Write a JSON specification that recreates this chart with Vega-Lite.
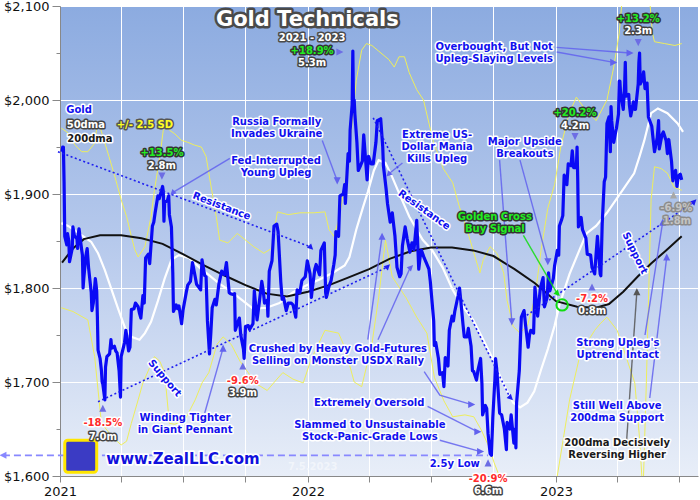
{
  "$schema": "https://vega.github.io/schema/vega-lite/v6.json",
  "width": 638,
  "height": 470,
  "autosize": {"type": "none"},
  "padding": {"left": 60, "top": 6, "right": 2, "bottom": 24},
  "background": "#ffffff",
  "config": {
    "font": "DejaVu Sans",
    "view": {
      "stroke": null,
      "fill": {
        "gradient": "linear", "x1": 0, "y1": 0, "x2": 0, "y2": 1,
        "stops": [
          {"offset": 0, "color": "#8cabe0"},
          {"offset": 0.5, "color": "#b6c9ec"},
          {"offset": 1, "color": "#e8eef8"}
        ]
      }
    },
    "axis": {
      "labelFont": "DejaVu Sans",
      "labelFontSize": 13,
      "labelColor": "#111111",
      "domainColor": "#888888",
      "tickColor": "#888888",
      "gridColor": "#ffffff",
      "gridWidth": 1,
      "labelOverlap": false,
      "labelFlush": false
    },
    "text": {"font": "DejaVu Sans", "fontWeight": "bold", "align": "center", "baseline": "middle"}
  },
  "datasets": {
    "gold": [
      {"date": "2021-01-04", "price": 1945}, {"date": "2021-01-05", "price": 1950}, {"date": "2021-01-06", "price": 1950},
      {"date": "2021-01-07", "price": 1913}, {"date": "2021-01-08", "price": 1855}, {"date": "2021-01-11", "price": 1846},
      {"date": "2021-01-12", "price": 1858}, {"date": "2021-01-14", "price": 1850}, {"date": "2021-01-15", "price": 1828},
      {"date": "2021-01-19", "price": 1842}, {"date": "2021-01-20", "price": 1865}, {"date": "2021-01-22", "price": 1856},
      {"date": "2021-01-26", "price": 1852}, {"date": "2021-01-27", "price": 1842}, {"date": "2021-01-28", "price": 1858},
      {"date": "2021-01-29", "price": 1863}, {"date": "2021-02-02", "price": 1840}, {"date": "2021-02-03", "price": 1835},
      {"date": "2021-02-04", "price": 1800}, {"date": "2021-02-05", "price": 1810}, {"date": "2021-02-08", "price": 1834},
      {"date": "2021-02-10", "price": 1842}, {"date": "2021-02-12", "price": 1822}, {"date": "2021-02-16", "price": 1795},
      {"date": "2021-02-17", "price": 1776}, {"date": "2021-02-19", "price": 1784}, {"date": "2021-02-22", "price": 1810},
      {"date": "2021-02-23", "price": 1804}, {"date": "2021-02-24", "price": 1797}, {"date": "2021-02-25", "price": 1770},
      {"date": "2021-02-26", "price": 1734}, {"date": "2021-03-01", "price": 1725}, {"date": "2021-03-03", "price": 1712},
      {"date": "2021-03-04", "price": 1700}, {"date": "2021-03-05", "price": 1698}, {"date": "2021-03-08", "price": 1681},
      {"date": "2021-03-09", "price": 1716}, {"date": "2021-03-11", "price": 1727}, {"date": "2021-03-15", "price": 1730},
      {"date": "2021-03-17", "price": 1745}, {"date": "2021-03-18", "price": 1736}, {"date": "2021-03-22", "price": 1738},
      {"date": "2021-03-24", "price": 1733}, {"date": "2021-03-26", "price": 1731}, {"date": "2021-03-29", "price": 1712},
      {"date": "2021-03-31", "price": 1684}, {"date": "2021-04-01", "price": 1727}, {"date": "2021-04-06", "price": 1742},
      {"date": "2021-04-08", "price": 1755}, {"date": "2021-04-12", "price": 1733}, {"date": "2021-04-14", "price": 1737},
      {"date": "2021-04-16", "price": 1777}, {"date": "2021-04-20", "price": 1778}, {"date": "2021-04-22", "price": 1784},
      {"date": "2021-04-26", "price": 1780}, {"date": "2021-04-28", "price": 1773}, {"date": "2021-04-30", "price": 1768},
      {"date": "2021-05-03", "price": 1792}, {"date": "2021-05-05", "price": 1784}, {"date": "2021-05-07", "price": 1832},
      {"date": "2021-05-11", "price": 1836}, {"date": "2021-05-13", "price": 1826}, {"date": "2021-05-17", "price": 1866},
      {"date": "2021-05-19", "price": 1870}, {"date": "2021-05-21", "price": 1880}, {"date": "2021-05-25", "price": 1898},
      {"date": "2021-05-27", "price": 1895}, {"date": "2021-06-01", "price": 1908}, {"date": "2021-06-02", "price": 1903},
      {"date": "2021-06-03", "price": 1871}, {"date": "2021-06-04", "price": 1891}, {"date": "2021-06-08", "price": 1893},
      {"date": "2021-06-10", "price": 1898}, {"date": "2021-06-11", "price": 1878}, {"date": "2021-06-14", "price": 1865},
      {"date": "2021-06-16", "price": 1816}, {"date": "2021-06-17", "price": 1775}, {"date": "2021-06-21", "price": 1782},
      {"date": "2021-06-23", "price": 1778}, {"date": "2021-06-25", "price": 1781}, {"date": "2021-06-29", "price": 1762},
      {"date": "2021-07-01", "price": 1776}, {"date": "2021-07-06", "price": 1796}, {"date": "2021-07-08", "price": 1803},
      {"date": "2021-07-12", "price": 1807}, {"date": "2021-07-15", "price": 1827}, {"date": "2021-07-19", "price": 1812},
      {"date": "2021-07-21", "price": 1804}, {"date": "2021-07-23", "price": 1802}, {"date": "2021-07-27", "price": 1798},
      {"date": "2021-07-29", "price": 1830}, {"date": "2021-08-02", "price": 1813}, {"date": "2021-08-04", "price": 1812},
      {"date": "2021-08-06", "price": 1765}, {"date": "2021-08-09", "price": 1730}, {"date": "2021-08-11", "price": 1752},
      {"date": "2021-08-13", "price": 1779}, {"date": "2021-08-17", "price": 1788}, {"date": "2021-08-19", "price": 1782},
      {"date": "2021-08-23", "price": 1805}, {"date": "2021-08-27", "price": 1818}, {"date": "2021-08-31", "price": 1814},
      {"date": "2021-09-03", "price": 1827}, {"date": "2021-09-07", "price": 1795}, {"date": "2021-09-09", "price": 1794},
      {"date": "2021-09-13", "price": 1793}, {"date": "2021-09-15", "price": 1794}, {"date": "2021-09-16", "price": 1755},
      {"date": "2021-09-20", "price": 1764}, {"date": "2021-09-22", "price": 1768}, {"date": "2021-09-24", "price": 1750},
      {"date": "2021-09-28", "price": 1735}, {"date": "2021-09-29", "price": 1725}, {"date": "2021-10-01", "price": 1759},
      {"date": "2021-10-05", "price": 1760}, {"date": "2021-10-07", "price": 1756}, {"date": "2021-10-12", "price": 1762},
      {"date": "2021-10-14", "price": 1797}, {"date": "2021-10-18", "price": 1766}, {"date": "2021-10-21", "price": 1783},
      {"date": "2021-10-25", "price": 1807}, {"date": "2021-10-27", "price": 1798}, {"date": "2021-10-29", "price": 1784},
      {"date": "2021-11-02", "price": 1787}, {"date": "2021-11-03", "price": 1770}, {"date": "2021-11-05", "price": 1818},
      {"date": "2021-11-09", "price": 1829}, {"date": "2021-11-12", "price": 1866}, {"date": "2021-11-16", "price": 1868},
      {"date": "2021-11-18", "price": 1860}, {"date": "2021-11-22", "price": 1806}, {"date": "2021-11-24", "price": 1788},
      {"date": "2021-11-26", "price": 1790}, {"date": "2021-11-30", "price": 1776}, {"date": "2021-12-03", "price": 1784},
      {"date": "2021-12-07", "price": 1784}, {"date": "2021-12-10", "price": 1782}, {"date": "2021-12-14", "price": 1769},
      {"date": "2021-12-16", "price": 1798}, {"date": "2021-12-20", "price": 1795}, {"date": "2021-12-23", "price": 1808},
      {"date": "2021-12-28", "price": 1812}, {"date": "2021-12-31", "price": 1829},
      {"date": "2022-01-04", "price": 1815}, {"date": "2022-01-06", "price": 1790}, {"date": "2022-01-07", "price": 1797},
      {"date": "2022-01-11", "price": 1820}, {"date": "2022-01-13", "price": 1825}, {"date": "2022-01-18", "price": 1814},
      {"date": "2022-01-20", "price": 1840}, {"date": "2022-01-25", "price": 1848}, {"date": "2022-01-27", "price": 1795},
      {"date": "2022-01-28", "price": 1790}, {"date": "2022-02-01", "price": 1802}, {"date": "2022-02-04", "price": 1808},
      {"date": "2022-02-08", "price": 1825}, {"date": "2022-02-10", "price": 1835}, {"date": "2022-02-11", "price": 1860},
      {"date": "2022-02-15", "price": 1855}, {"date": "2022-02-17", "price": 1898}, {"date": "2022-02-22", "price": 1900},
      {"date": "2022-02-24", "price": 1910}, {"date": "2022-02-25", "price": 1890}, {"date": "2022-03-01", "price": 1943},
      {"date": "2022-03-03", "price": 1935}, {"date": "2022-03-04", "price": 1968}, {"date": "2022-03-07", "price": 1995},
      {"date": "2022-03-08", "price": 2052}, {"date": "2022-03-09", "price": 1990}, {"date": "2022-03-10", "price": 2000},
      {"date": "2022-03-11", "price": 1985}, {"date": "2022-03-14", "price": 1955}, {"date": "2022-03-16", "price": 1925},
      {"date": "2022-03-18", "price": 1928}, {"date": "2022-03-22", "price": 1935}, {"date": "2022-03-24", "price": 1963},
      {"date": "2022-03-29", "price": 1915}, {"date": "2022-03-31", "price": 1940}, {"date": "2022-04-04", "price": 1932},
      {"date": "2022-04-07", "price": 1932}, {"date": "2022-04-11", "price": 1955}, {"date": "2022-04-13", "price": 1978},
      {"date": "2022-04-18", "price": 1980}, {"date": "2022-04-21", "price": 1950}, {"date": "2022-04-22", "price": 1930},
      {"date": "2022-04-26", "price": 1905}, {"date": "2022-04-28", "price": 1890}, {"date": "2022-05-02", "price": 1870},
      {"date": "2022-05-05", "price": 1880}, {"date": "2022-05-09", "price": 1855}, {"date": "2022-05-12", "price": 1822},
      {"date": "2022-05-16", "price": 1812}, {"date": "2022-05-18", "price": 1815}, {"date": "2022-05-20", "price": 1845},
      {"date": "2022-05-24", "price": 1865}, {"date": "2022-05-27", "price": 1852}, {"date": "2022-05-31", "price": 1838},
      {"date": "2022-06-03", "price": 1848}, {"date": "2022-06-06", "price": 1841}, {"date": "2022-06-10", "price": 1872},
      {"date": "2022-06-13", "price": 1820}, {"date": "2022-06-15", "price": 1833}, {"date": "2022-06-17", "price": 1840},
      {"date": "2022-06-21", "price": 1832}, {"date": "2022-06-24", "price": 1827}, {"date": "2022-06-28", "price": 1820},
      {"date": "2022-06-30", "price": 1807}, {"date": "2022-07-05", "price": 1765}, {"date": "2022-07-06", "price": 1739},
      {"date": "2022-07-08", "price": 1742}, {"date": "2022-07-12", "price": 1725}, {"date": "2022-07-14", "price": 1708},
      {"date": "2022-07-18", "price": 1710}, {"date": "2022-07-20", "price": 1695}, {"date": "2022-07-22", "price": 1726},
      {"date": "2022-07-26", "price": 1717}, {"date": "2022-07-28", "price": 1755}, {"date": "2022-08-01", "price": 1770},
      {"date": "2022-08-03", "price": 1765}, {"date": "2022-08-05", "price": 1775}, {"date": "2022-08-10", "price": 1792},
      {"date": "2022-08-12", "price": 1800}, {"date": "2022-08-15", "price": 1778}, {"date": "2022-08-17", "price": 1762},
      {"date": "2022-08-19", "price": 1748}, {"date": "2022-08-23", "price": 1748}, {"date": "2022-08-25", "price": 1757},
      {"date": "2022-08-29", "price": 1738}, {"date": "2022-08-31", "price": 1712}, {"date": "2022-09-02", "price": 1711},
      {"date": "2022-09-06", "price": 1702}, {"date": "2022-09-08", "price": 1712}, {"date": "2022-09-12", "price": 1725},
      {"date": "2022-09-14", "price": 1698}, {"date": "2022-09-15", "price": 1665}, {"date": "2022-09-19", "price": 1675},
      {"date": "2022-09-21", "price": 1672}, {"date": "2022-09-23", "price": 1645}, {"date": "2022-09-26", "price": 1624},
      {"date": "2022-09-28", "price": 1622}, {"date": "2022-09-30", "price": 1662}, {"date": "2022-10-03", "price": 1702},
      {"date": "2022-10-04", "price": 1725}, {"date": "2022-10-06", "price": 1712}, {"date": "2022-10-10", "price": 1667},
      {"date": "2022-10-13", "price": 1665}, {"date": "2022-10-17", "price": 1650}, {"date": "2022-10-20", "price": 1628},
      {"date": "2022-10-21", "price": 1657}, {"date": "2022-10-25", "price": 1650}, {"date": "2022-10-27", "price": 1665},
      {"date": "2022-10-31", "price": 1635}, {"date": "2022-11-02", "price": 1650}, {"date": "2022-11-03", "price": 1630},
      {"date": "2022-11-04", "price": 1678}, {"date": "2022-11-08", "price": 1712}, {"date": "2022-11-10", "price": 1752},
      {"date": "2022-11-11", "price": 1769}, {"date": "2022-11-15", "price": 1776}, {"date": "2022-11-17", "price": 1762},
      {"date": "2022-11-21", "price": 1737}, {"date": "2022-11-23", "price": 1750}, {"date": "2022-11-25", "price": 1755},
      {"date": "2022-11-29", "price": 1752}, {"date": "2022-12-01", "price": 1801}, {"date": "2022-12-05", "price": 1770},
      {"date": "2022-12-07", "price": 1785}, {"date": "2022-12-09", "price": 1800}, {"date": "2022-12-13", "price": 1811},
      {"date": "2022-12-15", "price": 1780}, {"date": "2022-12-19", "price": 1790}, {"date": "2022-12-21", "price": 1816},
      {"date": "2022-12-23", "price": 1797}, {"date": "2022-12-28", "price": 1810}, {"date": "2022-12-30", "price": 1824},
      {"date": "2023-01-03", "price": 1840}, {"date": "2023-01-05", "price": 1835}, {"date": "2023-01-06", "price": 1866},
      {"date": "2023-01-09", "price": 1872}, {"date": "2023-01-11", "price": 1877}, {"date": "2023-01-13", "price": 1920},
      {"date": "2023-01-17", "price": 1910}, {"date": "2023-01-19", "price": 1932}, {"date": "2023-01-23", "price": 1930},
      {"date": "2023-01-25", "price": 1946}, {"date": "2023-01-27", "price": 1928}, {"date": "2023-01-31", "price": 1928},
      {"date": "2023-02-01", "price": 1950}, {"date": "2023-02-02", "price": 1915}, {"date": "2023-02-03", "price": 1865},
      {"date": "2023-02-07", "price": 1875}, {"date": "2023-02-09", "price": 1862}, {"date": "2023-02-14", "price": 1853},
      {"date": "2023-02-16", "price": 1836}, {"date": "2023-02-21", "price": 1835}, {"date": "2023-02-23", "price": 1822},
      {"date": "2023-02-27", "price": 1815}, {"date": "2023-03-01", "price": 1836}, {"date": "2023-03-03", "price": 1855},
      {"date": "2023-03-07", "price": 1815}, {"date": "2023-03-08", "price": 1813}, {"date": "2023-03-10", "price": 1868},
      {"date": "2023-03-13", "price": 1913}, {"date": "2023-03-15", "price": 1918}, {"date": "2023-03-17", "price": 1975},
      {"date": "2023-03-20", "price": 1982}, {"date": "2023-03-22", "price": 1945}, {"date": "2023-03-23", "price": 1993},
      {"date": "2023-03-24", "price": 1978}, {"date": "2023-03-27", "price": 1955}, {"date": "2023-03-29", "price": 1963},
      {"date": "2023-03-31", "price": 1970}, {"date": "2023-04-03", "price": 1985}, {"date": "2023-04-04", "price": 2020},
      {"date": "2023-04-05", "price": 2020}, {"date": "2023-04-06", "price": 2008}, {"date": "2023-04-10", "price": 1990},
      {"date": "2023-04-12", "price": 2015}, {"date": "2023-04-13", "price": 2040}, {"date": "2023-04-14", "price": 2004},
      {"date": "2023-04-18", "price": 2006}, {"date": "2023-04-19", "price": 1995}, {"date": "2023-04-21", "price": 1983},
      {"date": "2023-04-25", "price": 1998}, {"date": "2023-04-27", "price": 1990}, {"date": "2023-04-28", "price": 1990},
      {"date": "2023-05-02", "price": 2017}, {"date": "2023-05-03", "price": 2040}, {"date": "2023-05-04", "price": 2050},
      {"date": "2023-05-05", "price": 2017}, {"date": "2023-05-08", "price": 2022}, {"date": "2023-05-10", "price": 2030},
      {"date": "2023-05-12", "price": 2012}, {"date": "2023-05-15", "price": 2018}, {"date": "2023-05-17", "price": 1982},
      {"date": "2023-05-19", "price": 1978}, {"date": "2023-05-22", "price": 1972}, {"date": "2023-05-24", "price": 1958},
      {"date": "2023-05-26", "price": 1945}, {"date": "2023-05-30", "price": 1960}, {"date": "2023-06-01", "price": 1978},
      {"date": "2023-06-02", "price": 1948}, {"date": "2023-06-06", "price": 1963}, {"date": "2023-06-08", "price": 1966},
      {"date": "2023-06-12", "price": 1957}, {"date": "2023-06-14", "price": 1943}, {"date": "2023-06-16", "price": 1958},
      {"date": "2023-06-20", "price": 1935}, {"date": "2023-06-22", "price": 1914}, {"date": "2023-06-23", "price": 1921},
      {"date": "2023-06-26", "price": 1925}, {"date": "2023-06-28", "price": 1908}, {"date": "2023-06-30", "price": 1919},
      {"date": "2023-07-03", "price": 1921}, {"date": "2023-07-05", "price": 1915}
    ],
    "ma50": [
      {"date": "2021-01-03", "price": 1869}, {"date": "2021-01-13", "price": 1866}, {"date": "2021-01-25", "price": 1860},
      {"date": "2021-02-06", "price": 1854}, {"date": "2021-02-16", "price": 1849}, {"date": "2021-02-26", "price": 1837},
      {"date": "2021-03-08", "price": 1819}, {"date": "2021-03-18", "price": 1798}, {"date": "2021-03-28", "price": 1777},
      {"date": "2021-04-07", "price": 1757}, {"date": "2021-04-16", "price": 1748}, {"date": "2021-04-28", "price": 1745},
      {"date": "2021-05-06", "price": 1752}, {"date": "2021-05-15", "price": 1764}, {"date": "2021-05-25", "price": 1786},
      {"date": "2021-06-04", "price": 1810}, {"date": "2021-06-14", "price": 1830}, {"date": "2021-06-25", "price": 1835},
      {"date": "2021-07-10", "price": 1832}, {"date": "2021-07-25", "price": 1822}, {"date": "2021-08-06", "price": 1815},
      {"date": "2021-08-23", "price": 1805}, {"date": "2021-09-12", "price": 1795}, {"date": "2021-09-26", "price": 1787},
      {"date": "2021-10-12", "price": 1778}, {"date": "2021-11-01", "price": 1779}, {"date": "2021-11-20", "price": 1784},
      {"date": "2021-12-09", "price": 1795}, {"date": "2021-12-30", "price": 1803}, {"date": "2022-01-18", "price": 1809},
      {"date": "2022-02-06", "price": 1816}, {"date": "2022-02-24", "price": 1824}, {"date": "2022-03-03", "price": 1833},
      {"date": "2022-03-13", "price": 1862}, {"date": "2022-03-23", "price": 1886}, {"date": "2022-03-30", "price": 1902},
      {"date": "2022-04-08", "price": 1925}, {"date": "2022-04-15", "price": 1936}, {"date": "2022-04-25", "price": 1933},
      {"date": "2022-05-05", "price": 1918}, {"date": "2022-05-15", "price": 1901}, {"date": "2022-05-30", "price": 1876},
      {"date": "2022-06-19", "price": 1851}, {"date": "2022-07-03", "price": 1840}, {"date": "2022-07-18", "price": 1822},
      {"date": "2022-08-02", "price": 1798}, {"date": "2022-08-17", "price": 1780}, {"date": "2022-09-01", "price": 1766},
      {"date": "2022-09-16", "price": 1745}, {"date": "2022-10-01", "price": 1723}, {"date": "2022-10-15", "price": 1699},
      {"date": "2022-10-30", "price": 1678}, {"date": "2022-11-09", "price": 1673}, {"date": "2022-11-20", "price": 1678},
      {"date": "2022-11-30", "price": 1690}, {"date": "2022-12-10", "price": 1713}, {"date": "2022-12-20", "price": 1735},
      {"date": "2022-12-30", "price": 1760}, {"date": "2023-01-06", "price": 1782}, {"date": "2023-01-21", "price": 1815},
      {"date": "2023-02-06", "price": 1843}, {"date": "2023-02-15", "price": 1858}, {"date": "2023-03-01", "price": 1866},
      {"date": "2023-03-17", "price": 1880}, {"date": "2023-04-06", "price": 1901}, {"date": "2023-04-26", "price": 1922},
      {"date": "2023-05-04", "price": 1940}, {"date": "2023-05-11", "price": 1957}, {"date": "2023-05-21", "price": 1986},
      {"date": "2023-05-31", "price": 1991}, {"date": "2023-06-14", "price": 1986}, {"date": "2023-06-29", "price": 1975},
      {"date": "2023-07-07", "price": 1966}
    ],
    "ma200": [
      {"date": "2021-01-04", "price": 1827}, {"date": "2021-01-20", "price": 1842}, {"date": "2021-02-05", "price": 1852},
      {"date": "2021-03-01", "price": 1856}, {"date": "2021-04-01", "price": 1856}, {"date": "2021-05-01", "price": 1853},
      {"date": "2021-06-01", "price": 1847}, {"date": "2021-07-01", "price": 1836}, {"date": "2021-08-01", "price": 1824},
      {"date": "2021-09-01", "price": 1813}, {"date": "2021-10-01", "price": 1803}, {"date": "2021-11-01", "price": 1794},
      {"date": "2021-12-01", "price": 1791}, {"date": "2022-01-01", "price": 1796}, {"date": "2022-02-01", "price": 1803},
      {"date": "2022-03-01", "price": 1811}, {"date": "2022-04-01", "price": 1820}, {"date": "2022-05-01", "price": 1831},
      {"date": "2022-06-01", "price": 1839}, {"date": "2022-07-01", "price": 1843}, {"date": "2022-08-01", "price": 1843},
      {"date": "2022-09-01", "price": 1840}, {"date": "2022-10-01", "price": 1834}, {"date": "2022-11-01", "price": 1820},
      {"date": "2022-12-01", "price": 1805}, {"date": "2023-01-01", "price": 1786}, {"date": "2023-02-01", "price": 1780},
      {"date": "2023-03-01", "price": 1779}, {"date": "2023-03-20", "price": 1783}, {"date": "2023-04-10", "price": 1796},
      {"date": "2023-05-01", "price": 1812}, {"date": "2023-05-21", "price": 1826}, {"date": "2023-06-12", "price": 1840},
      {"date": "2023-07-05", "price": 1855}
    ],
    "bands": [
      {"band": "upper", "date": "2021-01-03", "price": 1970}, {"band": "upper", "date": "2021-01-13", "price": 1965},
      {"band": "upper", "date": "2021-01-23", "price": 1952}, {"band": "upper", "date": "2021-02-02", "price": 1945},
      {"band": "upper", "date": "2021-02-11", "price": 1945}, {"band": "upper", "date": "2021-02-21", "price": 1954},
      {"band": "upper", "date": "2021-02-25", "price": 1975}, {"band": "upper", "date": "2021-03-01", "price": 1971},
      {"band": "upper", "date": "2021-03-14", "price": 1940}, {"band": "upper", "date": "2021-03-23", "price": 1918},
      {"band": "upper", "date": "2021-04-01", "price": 1894}, {"band": "upper", "date": "2021-04-09", "price": 1876},
      {"band": "upper", "date": "2021-04-16", "price": 1855}, {"band": "upper", "date": "2021-04-21", "price": 1841},
      {"band": "upper", "date": "2021-04-26", "price": 1833}, {"band": "upper", "date": "2021-05-06", "price": 1844},
      {"band": "upper", "date": "2021-05-15", "price": 1876}, {"band": "upper", "date": "2021-05-20", "price": 1904},
      {"band": "upper", "date": "2021-05-28", "price": 1940}, {"band": "upper", "date": "2021-06-02", "price": 1968},
      {"band": "upper", "date": "2021-06-07", "price": 1975}, {"band": "upper", "date": "2021-06-11", "price": 1968},
      {"band": "upper", "date": "2021-06-19", "price": 1964}, {"band": "upper", "date": "2021-06-29", "price": 1957},
      {"band": "upper", "date": "2021-07-08", "price": 1955}, {"band": "upper", "date": "2021-07-18", "price": 1952},
      {"band": "upper", "date": "2021-07-28", "price": 1950}, {"band": "upper", "date": "2021-08-04", "price": 1940},
      {"band": "upper", "date": "2021-08-09", "price": 1918}, {"band": "upper", "date": "2021-08-19", "price": 1876},
      {"band": "upper", "date": "2021-08-24", "price": 1851}, {"band": "upper", "date": "2021-09-05", "price": 1848},
      {"band": "upper", "date": "2021-09-19", "price": 1858}, {"band": "upper", "date": "2021-10-13", "price": 1844},
      {"band": "upper", "date": "2021-10-28", "price": 1837}, {"band": "upper", "date": "2021-11-08", "price": 1842},
      {"band": "upper", "date": "2021-11-17", "price": 1881}, {"band": "upper", "date": "2021-12-03", "price": 1878},
      {"band": "upper", "date": "2021-12-20", "price": 1880}, {"band": "upper", "date": "2022-01-10", "price": 1880},
      {"band": "upper", "date": "2022-01-26", "price": 1881}, {"band": "upper", "date": "2022-02-01", "price": 1862},
      {"band": "upper", "date": "2022-02-08", "price": 1855}, {"band": "upper", "date": "2022-02-15", "price": 1872},
      {"band": "upper", "date": "2022-02-24", "price": 1908}, {"band": "upper", "date": "2022-03-06", "price": 1968},
      {"band": "upper", "date": "2022-03-13", "price": 2021}, {"band": "upper", "date": "2022-03-21", "price": 2053},
      {"band": "upper", "date": "2022-03-28", "price": 2060}, {"band": "upper", "date": "2022-04-05", "price": 2058},
      {"band": "upper", "date": "2022-04-15", "price": 2052}, {"band": "upper", "date": "2022-04-30", "price": 2043},
      {"band": "upper", "date": "2022-05-08", "price": 2035}, {"band": "upper", "date": "2022-05-15", "price": 2046},
      {"band": "upper", "date": "2022-05-23", "price": 2046}, {"band": "upper", "date": "2022-05-30", "price": 2029},
      {"band": "upper", "date": "2022-06-10", "price": 2011}, {"band": "upper", "date": "2022-06-20", "price": 2000},
      {"band": "upper", "date": "2022-07-04", "price": 1957}, {"band": "upper", "date": "2022-07-19", "price": 1927},
      {"band": "upper", "date": "2022-08-02", "price": 1912}, {"band": "upper", "date": "2022-08-12", "price": 1886},
      {"band": "upper", "date": "2022-08-22", "price": 1865}, {"band": "upper", "date": "2022-09-01", "price": 1840},
      {"band": "upper", "date": "2022-09-11", "price": 1816}, {"band": "upper", "date": "2022-09-16", "price": 1830},
      {"band": "upper", "date": "2022-09-26", "price": 1844}, {"band": "upper", "date": "2022-10-06", "price": 1837},
      {"band": "upper", "date": "2022-10-16", "price": 1816}, {"band": "upper", "date": "2022-10-21", "price": 1787},
      {"band": "upper", "date": "2022-10-30", "price": 1759}, {"band": "upper", "date": "2022-11-09", "price": 1752},
      {"band": "upper", "date": "2022-11-20", "price": 1760}, {"band": "upper", "date": "2022-12-01", "price": 1790},
      {"band": "upper", "date": "2022-12-10", "price": 1840}, {"band": "upper", "date": "2022-12-20", "price": 1885},
      {"band": "upper", "date": "2022-12-30", "price": 1910}, {"band": "upper", "date": "2023-01-08", "price": 1950},
      {"band": "upper", "date": "2023-01-20", "price": 1985}, {"band": "upper", "date": "2023-01-31", "price": 2003},
      {"band": "upper", "date": "2023-02-10", "price": 1993}, {"band": "upper", "date": "2023-03-01", "price": 1978},
      {"band": "upper", "date": "2023-03-17", "price": 2000}, {"band": "upper", "date": "2023-03-27", "price": 2035},
      {"band": "upper", "date": "2023-04-04", "price": 2071}, {"band": "upper", "date": "2023-04-10", "price": 2120},
      {"band": "upper", "date": "2023-05-15", "price": 2140}, {"band": "upper", "date": "2023-05-23", "price": 2071},
      {"band": "upper", "date": "2023-05-26", "price": 2062}, {"band": "upper", "date": "2023-06-10", "price": 2060},
      {"band": "upper", "date": "2023-06-25", "price": 2058}, {"band": "upper", "date": "2023-07-05", "price": 2060},
      {"band": "lower", "date": "2021-01-03", "price": 1779}, {"band": "lower", "date": "2021-01-20", "price": 1775},
      {"band": "lower", "date": "2021-02-11", "price": 1766}, {"band": "lower", "date": "2021-02-21", "price": 1727},
      {"band": "lower", "date": "2021-03-03", "price": 1656}, {"band": "lower", "date": "2021-03-20", "price": 1641},
      {"band": "lower", "date": "2021-04-01", "price": 1633}, {"band": "lower", "date": "2021-04-09", "price": 1637},
      {"band": "lower", "date": "2021-04-16", "price": 1656}, {"band": "lower", "date": "2021-04-26", "price": 1681},
      {"band": "lower", "date": "2021-05-03", "price": 1699}, {"band": "lower", "date": "2021-05-20", "price": 1727},
      {"band": "lower", "date": "2021-05-28", "price": 1722}, {"band": "lower", "date": "2021-06-04", "price": 1710},
      {"band": "lower", "date": "2021-06-11", "price": 1656}, {"band": "lower", "date": "2021-06-19", "price": 1655},
      {"band": "lower", "date": "2021-07-04", "price": 1660}, {"band": "lower", "date": "2021-07-19", "price": 1681},
      {"band": "lower", "date": "2021-07-29", "price": 1699}, {"band": "lower", "date": "2021-08-08", "price": 1710},
      {"band": "lower", "date": "2021-08-20", "price": 1740}, {"band": "lower", "date": "2021-08-29", "price": 1748},
      {"band": "lower", "date": "2021-09-10", "price": 1740}, {"band": "lower", "date": "2021-09-23", "price": 1722},
      {"band": "lower", "date": "2021-10-05", "price": 1710}, {"band": "lower", "date": "2021-10-15", "price": 1699},
      {"band": "lower", "date": "2021-11-02", "price": 1691}, {"band": "lower", "date": "2021-11-15", "price": 1702},
      {"band": "lower", "date": "2021-11-25", "price": 1710}, {"band": "lower", "date": "2021-12-10", "price": 1703},
      {"band": "lower", "date": "2021-12-25", "price": 1699}, {"band": "lower", "date": "2022-01-05", "price": 1723},
      {"band": "lower", "date": "2022-01-26", "price": 1755}, {"band": "lower", "date": "2022-02-15", "price": 1752},
      {"band": "lower", "date": "2022-02-24", "price": 1737}, {"band": "lower", "date": "2022-03-10", "price": 1700},
      {"band": "lower", "date": "2022-03-21", "price": 1695}, {"band": "lower", "date": "2022-04-05", "price": 1740},
      {"band": "lower", "date": "2022-04-15", "price": 1790}, {"band": "lower", "date": "2022-04-25", "price": 1851},
      {"band": "lower", "date": "2022-05-05", "price": 1812}, {"band": "lower", "date": "2022-05-15", "price": 1801},
      {"band": "lower", "date": "2022-05-25", "price": 1790}, {"band": "lower", "date": "2022-06-10", "price": 1769},
      {"band": "lower", "date": "2022-06-25", "price": 1752}, {"band": "lower", "date": "2022-07-06", "price": 1705},
      {"band": "lower", "date": "2022-07-20", "price": 1680}, {"band": "lower", "date": "2022-08-02", "price": 1663},
      {"band": "lower", "date": "2022-08-20", "price": 1665}, {"band": "lower", "date": "2022-09-02", "price": 1663},
      {"band": "lower", "date": "2022-09-13", "price": 1649}, {"band": "lower", "date": "2022-09-25", "price": 1630},
      {"band": "lower", "date": "2022-10-02", "price": 1614}, {"band": "lower", "date": "2022-10-15", "price": 1590},
      {"band": "lower", "date": "2022-10-30", "price": 1560}, {"band": "lower", "date": "2022-11-20", "price": 1540},
      {"band": "lower", "date": "2022-12-15", "price": 1540}, {"band": "lower", "date": "2023-01-02", "price": 1596},
      {"band": "lower", "date": "2023-01-21", "price": 1681}, {"band": "lower", "date": "2023-02-06", "price": 1731},
      {"band": "lower", "date": "2023-02-27", "price": 1755}, {"band": "lower", "date": "2023-03-07", "price": 1762},
      {"band": "lower", "date": "2023-03-17", "price": 1769}, {"band": "lower", "date": "2023-04-01", "price": 1755},
      {"band": "lower", "date": "2023-04-15", "price": 1725}, {"band": "lower", "date": "2023-04-27", "price": 1699},
      {"band": "lower", "date": "2023-05-04", "price": 1640}, {"band": "lower", "date": "2023-05-09", "price": 1580},
      {"band": "lower", "date": "2023-05-14", "price": 1700}, {"band": "lower", "date": "2023-05-21", "price": 1894},
      {"band": "lower", "date": "2023-05-26", "price": 1929}, {"band": "lower", "date": "2023-06-05", "price": 1927},
      {"band": "lower", "date": "2023-06-14", "price": 1922}, {"band": "lower", "date": "2023-06-24", "price": 1907},
      {"band": "lower", "date": "2023-07-05", "price": 1904}
    ],
    "trends": [
      {"line": "res1", "date": "2020-12-29", "price": 1945}, {"line": "res1", "date": "2022-01-04", "price": 1844},
      {"line": "sup1", "date": "2021-02-26", "price": 1679}, {"line": "sup1", "date": "2022-04-27", "price": 1822},
      {"line": "res2", "date": "2022-04-07", "price": 1981}, {"line": "res2", "date": "2022-10-25", "price": 1684},
      {"line": "sup2", "date": "2022-11-19", "price": 1771}, {"line": "sup2", "date": "2023-07-22", "price": 1891}
    ],
    "lowline": [
      {"date": "2020-10-09", "price": 1622}, {"date": "2022-09-23", "price": 1622}
    ],
    "arrows": [
      {"id": "a1", "kind": "note", "ord": 1, "date": "2021-09-08", "price": 1938}, {"id": "a1", "kind": "note", "ord": 2, "date": "2021-06-17", "price": 1902},
      {"id": "a2", "kind": "note", "ord": 1, "date": "2022-01-22", "price": 1957}, {"id": "a2", "kind": "note", "ord": 2, "date": "2022-02-13", "price": 1914},
      {"id": "a3", "kind": "note", "ord": 1, "date": "2022-05-20", "price": 1933}, {"id": "a3", "kind": "note", "ord": 2, "date": "2022-05-01", "price": 1922},
      {"id": "a4", "kind": "note", "ord": 1, "date": "2023-01-02", "price": 2056}, {"id": "a4", "kind": "note", "ord": 2, "date": "2023-04-20", "price": 2050},
      {"id": "a5", "kind": "note", "ord": 1, "date": "2023-01-02", "price": 2051}, {"id": "a5", "kind": "note", "ord": 2, "date": "2023-03-27", "price": 2040},
      {"id": "a6", "kind": "note", "ord": 1, "date": "2022-10-10", "price": 1936}, {"id": "a6", "kind": "note", "ord": 2, "date": "2022-10-28", "price": 1764},
      {"id": "a7", "kind": "note", "ord": 1, "date": "2022-11-09", "price": 1936}, {"id": "a7", "kind": "note", "ord": 2, "date": "2022-12-20", "price": 1828},
      {"id": "a8", "kind": "cross", "ord": 1, "date": "2022-11-14", "price": 1856}, {"id": "a8", "kind": "cross", "ord": 2, "date": "2023-01-02", "price": 1795},
      {"id": "a9", "kind": "note", "ord": 1, "date": "2022-03-30", "price": 1745}, {"id": "a9", "kind": "note", "ord": 2, "date": "2022-04-20", "price": 1855},
      {"id": "a10", "kind": "note", "ord": 1, "date": "2022-04-14", "price": 1745}, {"id": "a10", "kind": "note", "ord": 2, "date": "2022-05-31", "price": 1821},
      {"id": "a11", "kind": "note", "ord": 1, "date": "2022-06-21", "price": 1711}, {"id": "a11", "kind": "note", "ord": 2, "date": "2022-07-14", "price": 1686},
      {"id": "a11", "kind": "note", "ord": 3, "date": "2022-08-30", "price": 1676},
      {"id": "a12", "kind": "note", "ord": 1, "date": "2022-06-26", "price": 1674}, {"id": "a12", "kind": "note", "ord": 2, "date": "2022-09-08", "price": 1647},
      {"id": "a13", "kind": "note", "ord": 1, "date": "2022-07-14", "price": 1638}, {"id": "a13", "kind": "note", "ord": 2, "date": "2022-09-12", "price": 1626},
      {"id": "a14", "kind": "note", "ord": 1, "date": "2021-08-02", "price": 1667}, {"id": "a14", "kind": "note", "ord": 2, "date": "2021-08-29", "price": 1736},
      {"id": "a15", "kind": "note", "ord": 1, "date": "2023-05-12", "price": 1750}, {"id": "a15", "kind": "note", "ord": 2, "date": "2023-06-07", "price": 1870},
      {"id": "a16", "kind": "note", "ord": 1, "date": "2023-05-19", "price": 1683}, {"id": "a16", "kind": "note", "ord": 2, "date": "2023-06-13", "price": 1833},
      {"id": "a17", "kind": "dark", "ord": 1, "date": "2023-04-15", "price": 1638}, {"id": "a17", "kind": "dark", "ord": 2, "date": "2023-04-30", "price": 1796}
    ],
    "heads": [
      {"kind": "trend", "dir": "downright", "date": "2022-01-04", "price": 1844},
      {"kind": "trend", "dir": "upright", "date": "2022-04-27", "price": 1822},
      {"kind": "trend", "dir": "downright", "date": "2022-10-25", "price": 1684},
      {"kind": "trend", "dir": "upright", "date": "2023-07-22", "price": 1891},
      {"kind": "low", "dir": "left", "date": "2020-10-09", "price": 1622},
      {"kind": "note", "dir": "downleft", "date": "2021-06-17", "price": 1902},
      {"kind": "note", "dir": "down", "date": "2022-02-13", "price": 1914},
      {"kind": "note", "dir": "downleft", "date": "2022-05-01", "price": 1922},
      {"kind": "note", "dir": "right", "date": "2023-04-20", "price": 2050},
      {"kind": "note", "dir": "right", "date": "2023-03-27", "price": 2040},
      {"kind": "note", "dir": "down", "date": "2022-10-28", "price": 1764},
      {"kind": "note", "dir": "down", "date": "2022-12-20", "price": 1828},
      {"kind": "cross", "dir": "downright", "date": "2023-01-02", "price": 1795},
      {"kind": "note", "dir": "up", "date": "2022-04-20", "price": 1855},
      {"kind": "note", "dir": "upright", "date": "2022-05-31", "price": 1821},
      {"kind": "note", "dir": "right", "date": "2022-08-30", "price": 1676},
      {"kind": "note", "dir": "right", "date": "2022-09-08", "price": 1647},
      {"kind": "note", "dir": "right", "date": "2022-09-12", "price": 1626},
      {"kind": "note", "dir": "up", "date": "2021-08-29", "price": 1736},
      {"kind": "note", "dir": "up", "date": "2023-06-07", "price": 1870},
      {"kind": "note", "dir": "up", "date": "2023-06-13", "price": 1833},
      {"kind": "dark", "dir": "up", "date": "2023-04-30", "price": 1796},
      {"kind": "mark", "dir": "down", "date": "2021-05-31", "price": 1919},
      {"kind": "mark", "dir": "up", "date": "2021-03-05", "price": 1672},
      {"kind": "mark", "dir": "up", "date": "2021-09-27", "price": 1717},
      {"kind": "mark", "dir": "down", "date": "2023-01-29", "price": 1961},
      {"kind": "mark", "dir": "down", "date": "2023-05-02", "price": 2061},
      {"kind": "mark", "dir": "up", "date": "2023-02-23", "price": 1801},
      {"kind": "mark", "dir": "up", "date": "2022-09-23", "price": 1614},
      {"kind": "mark", "dir": "right", "date": "2022-02-17", "price": 2051},
      {"kind": "grey", "dir": "up", "date": "2023-06-23", "price": 1899}
    ],
    "cross": [
      {"date": "2023-01-10", "price": 1782}
    ],
    "logo": [
      {"date": "2021-01-08", "date2": "2021-02-24", "price": 1638, "price2": 1604}
    ],
    "labels": [
      {"text": "Gold Technicals", "kind": "title", "date": "2021-12-31", "price": 2085},
      {"text": "2021 - 2023", "kind": "sub", "date": "2022-01-07", "price": 2066},
      {"text": "+18.9%", "kind": "gain", "date": "2022-01-07", "price": 2052},
      {"text": "5.3m", "kind": "dur", "date": "2022-01-07", "price": 2039},
      {"text": "Gold", "kind": "note", "date": "2021-01-29", "price": 1989},
      {"text": "50dma", "kind": "ma50", "date": "2021-02-08", "price": 1973},
      {"text": "200dma", "kind": "dark", "date": "2021-02-14", "price": 1958},
      {"text": "+/- 2.5 SD", "kind": "sd", "date": "2021-05-06", "price": 1973},
      {"text": "+13.5%", "kind": "gain", "date": "2021-05-31", "price": 1944},
      {"text": "2.8m", "kind": "dur", "date": "2021-05-31", "price": 1930},
      {"text": "-18.5%", "kind": "loss", "date": "2021-03-05", "price": 1656},
      {"text": "7.0m", "kind": "dur", "date": "2021-03-05", "price": 1642},
      {"text": "-9.6%", "kind": "loss", "date": "2021-09-27", "price": 1701},
      {"text": "3.9m", "kind": "dur", "date": "2021-09-27", "price": 1688},
      {"text": "+20.2%", "kind": "gain", "date": "2023-01-29", "price": 1986},
      {"text": "4.2m", "kind": "dur", "date": "2023-01-29", "price": 1972},
      {"text": "+13.2%", "kind": "gain", "date": "2023-05-02", "price": 2086},
      {"text": "2.3m", "kind": "dur", "date": "2023-05-02", "price": 2073},
      {"text": "-7.2%", "kind": "loss", "date": "2023-02-23", "price": 1788},
      {"text": "0.8m", "kind": "dur", "date": "2023-02-23", "price": 1776},
      {"text": "-6.9%", "kind": "grey", "date": "2023-06-27", "price": 1885},
      {"text": "1.8m", "kind": "grey", "date": "2023-06-28", "price": 1871},
      {"text": "-20.9%", "kind": "loss", "date": "2022-09-23", "price": 1597},
      {"text": "6.6m", "kind": "dur", "date": "2022-09-23", "price": 1584},
      {"text": "2.5y Low", "kind": "note", "date": "2022-08-05", "price": 1613},
      {"text": "Russia Formally", "kind": "note", "date": "2021-11-16", "price": 1977},
      {"text": "Invades Ukraine", "kind": "note", "date": "2021-11-16", "price": 1964},
      {"text": "Fed-Interrupted", "kind": "note", "date": "2021-11-15", "price": 1935},
      {"text": "Young Upleg", "kind": "note", "date": "2021-11-15", "price": 1922},
      {"text": "Overbought, But Not", "kind": "note", "date": "2022-10-02", "price": 2056},
      {"text": "Upleg-Slaying Levels", "kind": "note", "date": "2022-10-02", "price": 2044},
      {"text": "Extreme US-", "kind": "note", "date": "2022-07-10", "price": 1963},
      {"text": "Dollar Mania", "kind": "note", "date": "2022-07-10", "price": 1950},
      {"text": "Kills Upleg", "kind": "note", "date": "2022-07-10", "price": 1937},
      {"text": "Major Upside", "kind": "note", "date": "2022-11-16", "price": 1955},
      {"text": "Breakouts", "kind": "note", "date": "2022-11-16", "price": 1943},
      {"text": "Golden Cross", "kind": "gain", "date": "2022-10-03", "price": 1876},
      {"text": "Buy Signal", "kind": "gain", "date": "2022-10-03", "price": 1863},
      {"text": "Winding Tighter", "kind": "note", "date": "2021-07-04", "price": 1662},
      {"text": "in Giant Pennant", "kind": "note", "date": "2021-07-04", "price": 1649},
      {"text": "Crushed by Heavy Gold-Futures", "kind": "note", "date": "2022-02-14", "price": 1735},
      {"text": "Selling on Monster USDX Rally", "kind": "note", "date": "2022-02-14", "price": 1722},
      {"text": "Extremely Oversold", "kind": "note", "date": "2022-04-01", "price": 1678},
      {"text": "Slammed to Unsustainable", "kind": "note", "date": "2022-04-02", "price": 1654},
      {"text": "Stock-Panic-Grade Lows", "kind": "note", "date": "2022-04-02", "price": 1642},
      {"text": "Strong Upleg's", "kind": "note", "date": "2023-04-02", "price": 1741},
      {"text": "Uptrend Intact", "kind": "note", "date": "2023-04-02", "price": 1729},
      {"text": "Still Well Above", "kind": "note", "date": "2023-04-01", "price": 1674},
      {"text": "200dma Support", "kind": "note", "date": "2023-04-01", "price": 1662},
      {"text": "200dma Decisively", "kind": "dark", "date": "2023-04-01", "price": 1635},
      {"text": "Reversing Higher", "kind": "dark", "date": "2023-04-01", "price": 1622},
      {"text": "www.ZealLLC.com", "kind": "logo", "date": "2021-07-01", "price": 1618},
      {"text": "7.5.2023", "kind": "stamp", "date": "2022-01-08", "price": 1610}
    ],
    "trendText": [
      {"text": "Resistance", "line": "res1", "date": "2021-08-27", "price": 1887},
      {"text": "Resistance", "line": "res2", "date": "2022-06-21", "price": 1883},
      {"text": "Support", "line": "sup1", "date": "2021-06-04", "price": 1704},
      {"text": "Support", "line": "sup2", "date": "2023-04-27", "price": 1837}
    ]
  },
  "layer": [
    {
      "data": {"name": "bands"},
      "mark": {"type": "line", "color": "#eeee5c", "strokeWidth": 1, "clip": true},
      "encoding": {
        "x": {
          "field": "date", "type": "temporal", "title": null,
          "scale": {"domain": [{"year": 2021, "month": 1, "date": 1}, {"year": 2023, "month": 7, "date": 29}]},
          "axis": {
            "values": [
              {"year": 2021, "month": 1, "date": 1}, {"year": 2021, "month": 4, "date": 1}, {"year": 2021, "month": 7, "date": 1}, {"year": 2021, "month": 10, "date": 1},
              {"year": 2022, "month": 1, "date": 1}, {"year": 2022, "month": 4, "date": 1}, {"year": 2022, "month": 7, "date": 1}, {"year": 2022, "month": 10, "date": 1},
              {"year": 2023, "month": 1, "date": 1}, {"year": 2023, "month": 4, "date": 1}, {"year": 2023, "month": 7, "date": 1}
            ],
            "labelExpr": "month(datum.value) === 0 ? timeFormat(datum.value, '%Y') : ''",
            "tickSize": 6,
            "labelPadding": 3
          }
        },
        "y": {
          "field": "price", "type": "quantitative", "title": null,
          "scale": {"domain": [1600, 2100], "nice": false, "zero": false},
          "axis": {
            "values": [1600, 1625, 1650, 1675, 1700, 1725, 1750, 1775, 1800, 1825, 1850, 1875, 1900, 1925, 1950, 1975, 2000, 2025, 2050, 2075, 2100],
            "labelExpr": "datum.value % 100 === 0 ? format(datum.value, '$,') : ''",
            "gridOpacity": {"condition": {"test": "datum.value % 100 === 0", "value": 1}, "value": 0},
            "tickSize": {"condition": {"test": "datum.value % 100 === 0", "value": 8}, "value": 4},
            "labelPadding": 3
          }
        },
        "detail": {"field": "band"}
      }
    },
    {
      "data": {"name": "ma50"},
      "mark": {"type": "line", "color": "#ffffff", "strokeWidth": 2.2},
      "encoding": {"x": {"field": "date", "type": "temporal"}, "y": {"field": "price", "type": "quantitative"}}
    },
    {
      "data": {"name": "ma200"},
      "mark": {"type": "line", "color": "#111111", "strokeWidth": 2},
      "encoding": {"x": {"field": "date", "type": "temporal"}, "y": {"field": "price", "type": "quantitative"}}
    },
    {
      "data": {"name": "gold"},
      "mark": {"type": "line", "color": "#0a0af5", "strokeWidth": 3.2, "strokeJoin": "round"},
      "encoding": {"x": {"field": "date", "type": "temporal"}, "y": {"field": "price", "type": "quantitative"}}
    },
    {
      "data": {"name": "trends"},
      "mark": {"type": "line", "color": "#1e1ef0", "strokeWidth": 1.6, "strokeDash": [2, 2.5]},
      "encoding": {"x": {"field": "date", "type": "temporal"}, "y": {"field": "price", "type": "quantitative"}, "detail": {"field": "line"}}
    },
    {
      "data": {"name": "lowline"},
      "mark": {"type": "line", "color": "#8888ff", "strokeWidth": 1.8, "strokeDash": [7, 4]},
      "encoding": {"x": {"field": "date", "type": "temporal"}, "y": {"field": "price", "type": "quantitative"}}
    },
    {
      "data": {"name": "arrows"},
      "mark": {"type": "line", "strokeWidth": 1.4, "opacity": 0.85},
      "encoding": {
        "x": {"field": "date", "type": "temporal"},
        "y": {"field": "price", "type": "quantitative"},
        "detail": {"field": "id"},
        "order": {"field": "ord"},
        "color": {"field": "kind", "type": "nominal", "legend": null,
          "scale": {"domain": ["note", "cross", "dark"], "range": ["#6262ee", "#11dd11", "#555555"]}}
      }
    },
    {
      "data": {"name": "heads"},
      "mark": {"type": "point", "filled": true, "size": 50, "opacity": 1},
      "encoding": {
        "x": {"field": "date", "type": "temporal"},
        "y": {"field": "price", "type": "quantitative"},
        "shape": {"field": "dir", "type": "nominal", "legend": null,
          "scale": {
            "domain": ["up", "down", "left", "right", "upright", "downright", "downleft"],
            "range": ["M-1,1L1,1L0,-1Z", "M-1,-1L1,-1L0,1Z", "M1,-1L1,1L-1,0Z", "M-1,-1L-1,1L1,0Z",
                      "M0.9,-0.9L-0.9,-0.3L0.3,0.9Z", "M0.9,0.9L-0.9,0.3L0.3,-0.9Z", "M-0.9,0.9L0.9,0.3L-0.3,-0.9Z"]
          }},
        "color": {"field": "kind", "type": "nominal", "legend": null,
          "scale": {
            "domain": ["trend", "low", "note", "cross", "dark", "mark", "grey"],
            "range": ["#1c1cf0", "#8888ff", "#6262ee", "#11dd11", "#555555", "#6d6de4", "#a8a8a8"]
          }}
      }
    },
    {
      "data": {"name": "cross"},
      "mark": {"type": "point", "shape": "circle", "filled": false, "size": 130, "stroke": "#11dd11", "strokeWidth": 2, "opacity": 1},
      "encoding": {"x": {"field": "date", "type": "temporal"}, "y": {"field": "price", "type": "quantitative"}}
    },
    {
      "data": {"name": "logo"},
      "mark": {"type": "rect", "fill": "#3b3bc4", "stroke": "#ffe600", "strokeWidth": 3, "cornerRadius": 3},
      "encoding": {
        "x": {"field": "date", "type": "temporal"}, "x2": {"field": "date2"},
        "y": {"field": "price", "type": "quantitative"}, "y2": {"field": "price2"}
      }
    },
    {
      "data": {"name": "labels"},
      "transform": [{"filter": {"field": "kind", "oneOf": ["sub", "gain", "loss", "dur", "grey", "note", "dark", "ma50", "sd"]}}],
      "mark": {"type": "text", "fontSize": 10, "strokeWidth": 3, "strokeJoin": "round"},
      "encoding": {
        "x": {"field": "date", "type": "temporal"},
        "y": {"field": "price", "type": "quantitative"},
        "text": {"field": "text"},
        "fill": {"field": "kind", "type": "nominal", "legend": null,
          "scale": {"domain": ["sub", "gain", "loss", "dur", "grey", "note", "dark", "ma50", "sd"],
                    "range": ["#ffffff", "#22ee22", "#ff2a2a", "#ffffff", "#c4c4c4", "#1111ee", "#1a1a1a", "#ffffff", "#ffff22"]}},
        "stroke": {"field": "kind", "type": "nominal", "legend": null,
          "scale": {"domain": ["sub", "gain", "loss", "dur", "grey", "note", "dark", "ma50", "sd"],
                    "range": ["#4a4a4a", "#333333", "#ffffff", "#444444", "#8c8c8c", "#ffffff", "#ffffff", "#444444", "#555555"]}}
      }
    },
    {
      "data": {"name": "labels"},
      "transform": [{"filter": {"field": "kind", "oneOf": ["sub", "gain", "loss", "dur", "grey", "note", "dark", "ma50", "sd"]}}],
      "mark": {"type": "text", "fontSize": 10},
      "encoding": {
        "x": {"field": "date", "type": "temporal"},
        "y": {"field": "price", "type": "quantitative"},
        "text": {"field": "text"},
        "fill": {"field": "kind", "type": "nominal", "legend": null,
          "scale": {"domain": ["sub", "gain", "loss", "dur", "grey", "note", "dark", "ma50", "sd"],
                    "range": ["#ffffff", "#22ee22", "#ff2a2a", "#ffffff", "#c4c4c4", "#1111ee", "#1a1a1a", "#ffffff", "#ffff22"]}}
      }
    },
    {
      "data": {"name": "labels"},
      "transform": [{"filter": {"field": "kind", "equal": "title"}}],
      "mark": {"type": "text", "fontSize": 21, "fill": "#ffffff", "stroke": "#4a4a4a", "strokeWidth": 5, "strokeJoin": "round"},
      "encoding": {"x": {"field": "date", "type": "temporal"}, "y": {"field": "price", "type": "quantitative"}, "text": {"field": "text"}}
    },
    {
      "data": {"name": "labels"},
      "transform": [{"filter": {"field": "kind", "equal": "title"}}],
      "mark": {"type": "text", "fontSize": 21, "fill": "#ffffff"},
      "encoding": {"x": {"field": "date", "type": "temporal"}, "y": {"field": "price", "type": "quantitative"}, "text": {"field": "text"}}
    },
    {
      "data": {"name": "labels"},
      "transform": [{"filter": {"field": "kind", "equal": "logo"}}],
      "mark": {"type": "text", "fontSize": 15, "fill": "#1111dd", "stroke": "#ffffff", "strokeWidth": 3.5, "strokeJoin": "round"},
      "encoding": {"x": {"field": "date", "type": "temporal"}, "y": {"field": "price", "type": "quantitative"}, "text": {"field": "text"}}
    },
    {
      "data": {"name": "labels"},
      "transform": [{"filter": {"field": "kind", "equal": "logo"}}],
      "mark": {"type": "text", "fontSize": 15, "fill": "#1111dd"},
      "encoding": {"x": {"field": "date", "type": "temporal"}, "y": {"field": "price", "type": "quantitative"}, "text": {"field": "text"}}
    },
    {
      "data": {"name": "labels"},
      "transform": [{"filter": {"field": "kind", "equal": "stamp"}}],
      "mark": {"type": "text", "fontSize": 10, "fill": "#f4f7fc", "opacity": 0.85},
      "encoding": {"x": {"field": "date", "type": "temporal"}, "y": {"field": "price", "type": "quantitative"}, "text": {"field": "text"}}
    },
    {
      "data": {"name": "trendText"},
      "mark": {"type": "text", "fontSize": 10, "fill": "#1111ee", "stroke": "#ffffff", "strokeWidth": 3, "strokeJoin": "round"},
      "encoding": {
        "x": {"field": "date", "type": "temporal"},
        "y": {"field": "price", "type": "quantitative"},
        "text": {"field": "text"},
        "angle": {"field": "line", "type": "nominal", "legend": null,
          "scale": {"domain": ["res1", "res2", "sup1", "sup2"], "range": [21, 64, -25, -34]}}
      }
    },
    {
      "data": {"name": "trendText"},
      "mark": {"type": "text", "fontSize": 10, "fill": "#1111ee"},
      "encoding": {
        "x": {"field": "date", "type": "temporal"},
        "y": {"field": "price", "type": "quantitative"},
        "text": {"field": "text"},
        "angle": {"field": "line", "type": "nominal", "legend": null,
          "scale": {"domain": ["res1", "res2", "sup1", "sup2"], "range": [21, 64, -25, -34]}}
      }
    }
  ],
  "resolve": {
    "scale": {"color": "independent", "fill": "independent", "stroke": "independent", "shape": "independent", "angle": "independent"}
  }
}
